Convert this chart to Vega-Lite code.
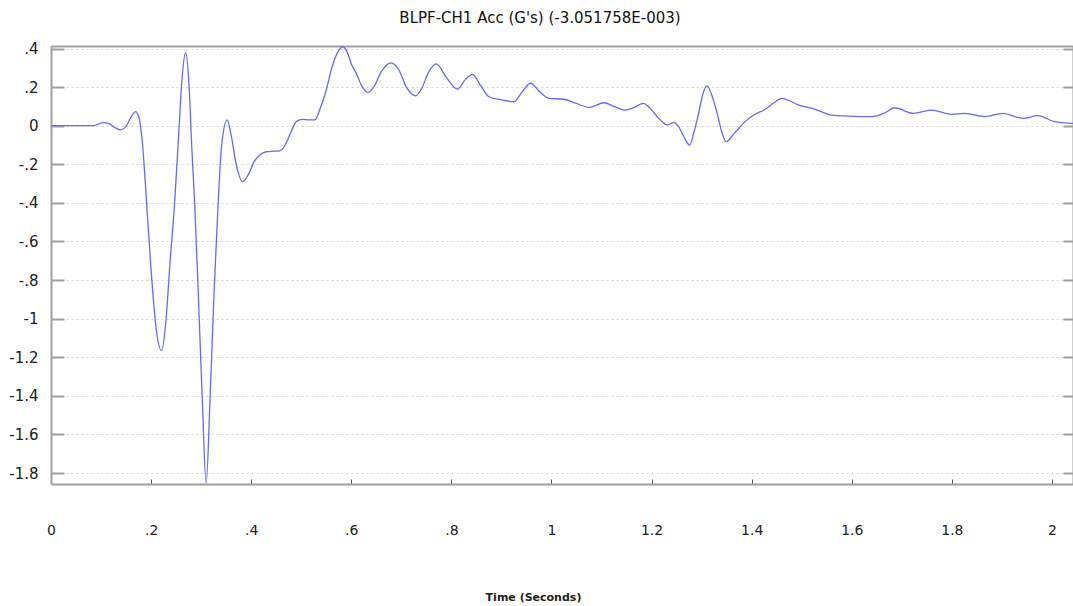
{
  "$schema": "https://vega.github.io/schema/vega-lite/v6.json",
  "autosize": "none",
  "padding": {"left": 51, "top": 46, "right": 0, "bottom": 122},
  "width": 1022,
  "height": 438,
  "background": "white",
  "config": {
    "view": {"stroke": null},
    "font": "DejaVu Sans"
  },
  "title": {
    "text": "BLPF-CH1 Acc (G's) (-3.051758E-003)",
    "fontSize": 15,
    "fontWeight": "normal",
    "color": "#111",
    "font": "DejaVu Sans",
    "anchor": "middle",
    "dx": -22,
    "baseline": "alphabetic",
    "offset": 4
  },
  "data": {"values": [
    {"t":0,"g":0},{"t":0.05,"g":0},{"t":0.084,"g":0},{"t":0.094,"g":0.008},{"t":0.104,"g":0.016},{"t":0.115,"g":0.012},{"t":0.128,"g":-0.01},{"t":0.138,"g":-0.022},{"t":0.148,"g":-0.01},{"t":0.16,"g":0.045},{"t":0.169,"g":0.073},{"t":0.176,"g":0.04},{"t":0.183,"g":-0.1},{"t":0.191,"g":-0.4},{"t":0.2,"g":-0.75},{"t":0.21,"g":-1.05},{"t":0.221,"g":-1.166},{"t":0.23,"g":-1.0},{"t":0.238,"g":-0.7},{"t":0.247,"g":-0.4},{"t":0.255,"g":-0.05},{"t":0.262,"g":0.25},{"t":0.269,"g":0.378},{"t":0.276,"g":0.2},{"t":0.281,"g":-0.1},{"t":0.287,"g":-0.4},{"t":0.294,"g":-0.85},{"t":0.302,"g":-1.4},{"t":0.31,"g":-1.853},{"t":0.318,"g":-1.4},{"t":0.326,"g":-0.85},{"t":0.334,"g":-0.4},{"t":0.341,"g":-0.1},{"t":0.352,"g":0.03},{"t":0.36,"g":-0.05},{"t":0.37,"g":-0.2},{"t":0.383,"g":-0.29},{"t":0.395,"g":-0.25},{"t":0.405,"g":-0.19},{"t":0.417,"g":-0.152},{"t":0.43,"g":-0.135},{"t":0.445,"g":-0.132},{"t":0.457,"g":-0.13},{"t":0.468,"g":-0.1},{"t":0.48,"g":-0.03},{"t":0.49,"g":0.021},{"t":0.503,"g":0.033},{"t":0.515,"g":0.03},{"t":0.527,"g":0.03},{"t":0.538,"g":0.09},{"t":0.55,"g":0.185},{"t":0.558,"g":0.27},{"t":0.566,"g":0.34},{"t":0.575,"g":0.39},{"t":0.583,"g":0.409},{"t":0.592,"g":0.38},{"t":0.6,"g":0.32},{"t":0.61,"g":0.271},{"t":0.62,"g":0.21},{"t":0.633,"g":0.173},{"t":0.645,"g":0.2},{"t":0.66,"g":0.28},{"t":0.679,"g":0.326},{"t":0.695,"g":0.29},{"t":0.71,"g":0.2},{"t":0.729,"g":0.155},{"t":0.74,"g":0.19},{"t":0.755,"g":0.28},{"t":0.77,"g":0.32},{"t":0.79,"g":0.25},{"t":0.812,"g":0.189},{"t":0.828,"g":0.24},{"t":0.842,"g":0.266},{"t":0.858,"g":0.21},{"t":0.875,"g":0.15},{"t":0.902,"g":0.133},{"t":0.925,"g":0.124},{"t":0.94,"g":0.17},{"t":0.958,"g":0.22},{"t":0.975,"g":0.18},{"t":0.995,"g":0.142},{"t":1.025,"g":0.137},{"t":1.05,"g":0.115},{"t":1.075,"g":0.095},{"t":1.105,"g":0.119},{"t":1.125,"g":0.1},{"t":1.148,"g":0.081},{"t":1.165,"g":0.095},{"t":1.184,"g":0.116},{"t":1.194,"g":0.098},{"t":1.21,"g":0.05},{"t":1.221,"g":0.021},{"t":1.231,"g":0.004},{"t":1.244,"g":0.016},{"t":1.254,"g":-0.005},{"t":1.265,"g":-0.06},{"t":1.276,"g":-0.1},{"t":1.285,"g":-0.03},{"t":1.294,"g":0.064},{"t":1.302,"g":0.16},{"t":1.311,"g":0.206},{"t":1.32,"g":0.16},{"t":1.331,"g":0.064},{"t":1.34,"g":-0.03},{"t":1.349,"g":-0.083},{"t":1.365,"g":-0.04},{"t":1.387,"g":0.021},{"t":1.401,"g":0.05},{"t":1.427,"g":0.085},{"t":1.445,"g":0.12},{"t":1.46,"g":0.142},{"t":1.494,"g":0.107},{"t":1.527,"g":0.085},{"t":1.56,"g":0.055},{"t":1.593,"g":0.05},{"t":1.64,"g":0.047},{"t":1.665,"g":0.065},{"t":1.686,"g":0.093},{"t":1.723,"g":0.064},{"t":1.759,"g":0.081},{"t":1.799,"g":0.059},{"t":1.826,"g":0.064},{"t":1.866,"g":0.047},{"t":1.902,"g":0.064},{"t":1.942,"g":0.038},{"t":1.972,"g":0.052},{"t":2.005,"g":0.021},{"t":2.042,"g":0.012}
  ]},
  "layer": [
    {
      "mark": {"type": "line", "color": "#6868ff", "strokeWidth": 1.3, "interpolate": "monotone", "clip": true},
      "encoding": {
        "x": {
          "field": "t", "type": "quantitative",
          "scale": {"domain": [0, 2.042], "nice": false, "zero": false},
          "axis": {
            "orient": "bottom",
            "values": [0, 0.2, 0.4, 0.6, 0.8, 1, 1.2, 1.4, 1.6, 1.8, 2],
            "labelExpr": "replace(replace(format(datum.value, '.1~f'), '0.', '.'), '\u2212', '-')",
            "labelFlush": false,
            "grid": false,
            "domainColor": "#a0a0a0", "domainWidth": 2,
            "tickColor": "#555", "tickWidth": 1, "tickSize": -5,
            "labelFontSize": 14, "labelColor": "#222", "labelFont": "DejaVu Sans",
            "labelPadding": 51, "labelBaseline": "middle",
            "title": "Time (Seconds)",
            "titleFontSize": 11, "titleFontWeight": "bold", "titleColor": "#222", "titleFont": "DejaVu Sans",
            "titleX": 482, "titleY": 113, "titleBaseline": "middle", "titleAnchor": "start", "titleAlign": "center"
          }
        },
        "y": {
          "field": "g", "type": "quantitative",
          "scale": {"domain": [-1.857, 0.413], "nice": false, "zero": false},
          "axis": {
            "orient": "left",
            "values": [0.4, 0.2, 0, -0.2, -0.4, -0.6, -0.8, -1, -1.2, -1.4, -1.6, -1.8],
            "labelExpr": "replace(replace(format(datum.value, '.1~f'), '0.', '.'), '\u2212', '-')",
            "labelFlush": false,
            "grid": true, "gridColor": "#d2d2d2", "gridDash": [2, 3], "gridWidth": 1,
            "domainColor": "#a0a0a0", "domainWidth": 2,
            "tickColor": "#a0a0a0", "tickWidth": 2, "tickSize": -13,
            "labelFontSize": 15, "labelColor": "#222", "labelFont": "DejaVu Sans",
            "labelPadding": 26,
            "title": null
          }
        }
      }
    },
    {
      "mark": {"type": "line", "strokeOpacity": 0, "interpolate": "monotone"},
      "encoding": {
        "x": {
          "field": "t", "type": "quantitative",
          "axis": {"orient": "top", "labels": false, "ticks": false, "grid": false, "domainColor": "#a0a0a0", "domainWidth": 2, "title": null}
        },
        "y": {
          "field": "g", "type": "quantitative",
          "axis": {
            "orient": "right", "labels": false, "grid": false,
            "values": [0.4, 0.2, 0, -0.2, -0.4, -0.6, -0.8, -1, -1.2, -1.4, -1.6, -1.8],
            "domainColor": "#a0a0a0", "domainWidth": 2,
            "tickColor": "#a0a0a0", "tickWidth": 2, "tickSize": -10, "title": null
          }
        }
      }
    }
  ],
  "resolve": {"axis": {"x": "independent", "y": "independent"}}
}
